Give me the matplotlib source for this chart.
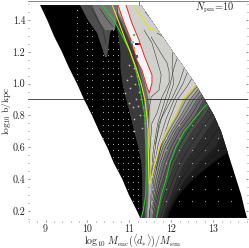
import matplotlib
matplotlib.use("Agg")
import matplotlib.pyplot as plt
import numpy as np
from matplotlib.patches import Polygon

plt.rcParams['mathtext.fontset'] = 'cm'
plt.rcParams['font.family'] = ['cmr10', 'DejaVu Serif']
plt.rcParams['axes.formatter.use_mathtext'] = True

# rows of log10 b at which every boundary below is read
b_rows = [1.494, 1.4, 1.3, 1.2, 1.1, 1.0, .9, .8, .7, .6, .5, .4, .3, .2, .155]
edge_left = [8.87, 9.04, 9.20, 9.39, 9.56, 9.75, 9.92, 10.11, 10.28, 10.47, 10.63, 10.83, 10.99, 11.18, 11.26]
edge_right = [11.28, 11.52, 11.78, 12.04, 12.31, 12.57, 12.80, 13.02, 13.19, 13.31, 13.43, 13.55, 13.67, 13.76, 13.81]

left_outer = [10.54, 10.66, 10.73, 10.78, 10.78, 10.83, 10.92, 11.02, 11.11, 11.21, 11.28, 11.30, 11.30, 11.30, 11.28]
left_mid = [10.59, 10.78, 10.95, 11.11, 11.21, 11.30, 11.35, 11.35, 11.35, 11.37, 11.40, 11.40, 11.40, 11.37, 11.37]
left_light = [10.63, 10.83, 10.99, 11.16, 11.26, 11.37, 11.45, 11.47, 11.45, 11.45, 11.45, 11.45, 11.45, 11.42, 11.42]
left_top = [10.68, 10.87, 11.04, 11.18, 11.30, 11.42, 11.49, 11.49, 11.49, 11.49, 11.49, 11.52, 11.54, 11.54, 11.54]

far = 14.1
right_light = [far, far, far, far, far, 12.60, 12.26, 12.09, 11.88, 11.71, 11.61, 11.52, 11.49, 11.49, 11.49]
right_b1 = [far, far, far, far, far, 12.75, 12.45, 12.23, 12.00, 11.80, 11.68, 11.59, 11.54, 11.49, 11.47]
right_b2 = [far, far, far, far, far, 12.95, 12.62, 12.38, 12.11, 11.92, 11.78, 11.68, 11.61, 11.54, 11.52]
right_b3 = [far, far, far, far, far, 13.10, 12.78, 12.57, 12.28, 12.07, 11.92, 11.80, 11.68, 11.61, 11.57]
right_b4 = [far, far, far, far, far, far, 13.00, 12.81, 12.52, 12.28, 12.09, 11.95, 11.83, 11.73, 11.68]
right_b5 = [far, far, far, far, far, far, far, 13.10, 12.85, 12.59, 12.33, 12.14, 12.00, 11.85, 11.80]
right_b6 = [far, far, far, far, far, far, far, far, 13.30, 13.05, 12.66, 12.35, 12.09, 11.92, 11.85]
right_b7 = [far, far, far, far, far, far, far, far, far, 13.50, 12.97, 12.50, 12.16, 11.95, 11.90]

green_left_b = b_rows
green_left_M = [10.35, 10.63, 10.83, 11.02, 11.14, 11.23, 11.30, 11.37, 11.39, 11.40, 11.40, 11.40, 11.39, 11.33, 11.28]
green_right_b = [.88, .8, .7, .6, .5, .4, .3, .2, .155]
green_right_M = [12.88, 12.62, 12.31, 12.11, 11.97, 11.88, 11.76, 11.68, 11.65]
yellow_left_b = [1.494, 1.4, 1.3, 1.2, 1.1, 1.0, .9, .8, .7, .6, .5, .4, .37]
yellow_left_M = [10.59, 10.73, 10.87, 11.02, 11.16, 11.28, 11.37, 11.42, 11.45, 11.45, 11.46, 11.47, 11.48]
yellow_right_b = [.995, .9, .8, .7, .6, .5, .4, .37]
yellow_right_M = [12.59, 12.26, 12.09, 11.88, 11.71, 11.61, 11.52, 11.48]
yellow_top_b = [1.494, 1.419, 1.35, 1.337]
yellow_top_M = [11.09, 11.31, 11.45, 11.67]
red_b = [1.494, 1.387, 1.274, 1.148, 1.085, .979, .941, 1.004, 1.054, 1.18, 1.274, 1.381, 1.494]
red_M = [10.73, 10.87, 11.04, 11.18, 11.30, 11.42, 11.48, 11.54, 11.54, 11.35, 11.23, 11.06, 10.92]

contours = [
    ([1.337, 1.255, 1.148, 1.054, .96, .916, .752], [11.35, 11.54, 11.66, 11.76, 11.71, 11.52, 11.42]),
    ([1.293, 1.18, 1.13, 1.073, 1.004, .916, .815, .752, .582, .394], [11.52, 11.78, 11.90, 11.95, 11.95, 11.78, 11.66, 11.54, 11.49, 11.47]),
    ([1.318, 1.255, 1.211, 1.104, .991, .897, .752, .582, .394], [11.66, 12.07, 12.21, 12.07, 11.97, 11.85, 11.68, 11.57, 11.52]),
    ([1.13, 1.004, .897, .79, .752, .582, .425], [12.35, 12.19, 12.00, 11.78, 11.71, 11.61, 11.54]),
    ([1.035, .972, .897, .771, .614, .457], [12.50, 12.35, 12.14, 11.95, 11.76, 11.64]),
    ([1.08, 1.0, .9, .78, .62, .46], [12.40, 12.28, 12.07, 11.88, 11.69, 11.58]),
    ([1.2, 1.1, 1.0, .9, .78, .62], [12.04, 12.02, 12.06, 11.93, 11.76, 11.62]),
    ([1.45, 1.38, 1.31, 1.27], [11.38, 11.60, 11.85, 12.05]),
]
tongue_b = [1.494, 1.4, 1.318, 1.167, 1.167, 1.318, 1.4, 1.494]
tongue_M = [9.82, 10.01, 10.23, 10.42, 10.47, 10.54, 10.73, 10.73]
tongue_hi_b = [1.494, 1.387, 1.337, 1.337, 1.494]
tongue_hi_M = [10.11, 10.30, 10.42, 10.66, 10.73]
tongue_lines = [
    ([1.47, 1.40, 1.33, 1.25], [10.10, 10.25, 10.38, 10.44]),
    ([1.47, 1.41, 1.36], [10.30, 10.45, 10.60]),
]

dot_b = [1.46, 1.42, 1.38, 1.34, 1.30, 1.26, 1.22, 1.18, 1.14, 1.10, 1.06, 1.02, .98, .94, .90, .86,
         .82, .78, .74, .70, .66, .62, .58, .54, .50, .46, .42, .38, .34, .30, .26, .22]
dot_M_left = [9.76, 10.0, 10.12, 10.36, 10.48, 10.6, 10.72, 10.84, 10.96, 11.08, 11.2, 11.32]
dot_far_b = [.74, .66, .58, .50, .42, .34, .26]
dot_M_far = [11.55, 11.87, 12.18, 12.49, 12.8, 13.11, 13.42, 13.73]
star_M = [11.0, 11.05, 11.1, 11.14, 11.18, 11.24, 11.22, 11.27, 11.32, 11.36, 11.38, 11.02, 11.08, 11.1,
          10.95, 10.9, 11.15, 11.2, 11.26, 11.3, 11.0, 11.12]
star_b = [1.12, 1.05, 1.1, 1.0, 1.05, 1.0, .95, .9, .85, .8, .75, .97, .85, .78,
          1.02, .94, .9, .86, .8, .72, .88, .7]

marker_M = [11.11, 11.18, 11.23, 11.11, 11.08, 11.18]
marker_b = [1.306, 1.249, 1.249, 1.224, 1.262, 1.17]
marker_c = ['#30e030', '#1010d0', '#e01010', '#f09020', '#30e0e0', '#9030a0']

bands = [
    (left_outer, right_b7, '#1c1c1c'),
    (left_outer, right_b6, '#2a2a2a'),
    (left_outer, right_b5, '#3a3a3a'),
    (left_mid, right_b4, '#4c4c4c'),
    (left_mid, right_b3, '#6c6c6c'),
    (left_light, right_b2, '#8e8e8e'),
    (left_light, right_b1, '#aeaeae'),
    (left_top, right_light, '#d0d0cc'),
]

fig = plt.figure(figsize=(2.49, 2.48), dpi=100)
ax = fig.add_axes([27.5 / 249, 1 - 221.5 / 248, 220 / 249, 221 / 248])
ax.set_xlim(8.57, 13.82)
ax.set_ylim(0.1327, 1.5226)

wedge_xy = np.r_[np.c_[edge_left, b_rows], np.c_[edge_right, b_rows][::-1]]
wedge = Polygon(wedge_xy, closed=True, fc='black', ec='none', zorder=1)
ax.add_patch(wedge)

def clip(art):
    for a in (art if isinstance(art, (list, tuple)) else [art]):
        a.set_clip_path(wedge)

for i, (l, r, c) in enumerate(bands):
    clip(ax.fill_betweenx(b_rows, l, r, color=c, lw=0, zorder=2 + i * .01))
    if i < len(bands) - 1:
        clip(ax.plot(r, b_rows, color='#101010', lw=.3, zorder=3))
        nxt_r = bands[i + 1][1]
        # thin hatching of iso-lines between neighbouring readings
        clip(ax.plot(np.mean([r, nxt_r], axis=0), b_rows, color='#101010', lw=.25, zorder=3))

t1 = ax.fill(tongue_M, tongue_b, color='#4e4e4e', lw=0, zorder=2.5); clip(t1)
t2 = ax.fill(tongue_hi_M, tongue_hi_b, color='#747474', lw=0, zorder=2.6); clip(t2)
for tb, tm in tongue_lines:
    clip(ax.plot(tm, tb, color='#222222', lw=.35, zorder=3))

clip(ax.fill(red_M, red_b, color='#f4f4f4', lw=0, zorder=3.2))

for cb, cm in contours:
    clip(ax.plot(cm, cb, color='#2a2a2a', lw=.35, zorder=3.3))

gx, gy = np.meshgrid(dot_M_left, dot_b)
clip(ax.scatter(gx.ravel(), gy.ravel(), s=.45, c='white', alpha=.6, lw=0, zorder=2.005))
gx, gy = np.meshgrid(dot_M_far, dot_far_b)
clip(ax.scatter(gx.ravel(), gy.ravel(), s=.8, c='white', alpha=.6, lw=0, zorder=3.4))
clip(ax.scatter(star_M, star_b, s=1.5, c='white', alpha=.7, lw=0, zorder=3.4))

for by, bx, col, w in [(green_left_b, green_left_M, '#20d020', .8), (green_right_b, green_right_M, '#20d020', .8),
                       (yellow_left_b, yellow_left_M, '#e8e020', .8), (yellow_right_b, yellow_right_M, '#e8e020', .8),
                       (yellow_top_b, yellow_top_M, '#e8e020', .8), (red_b, red_M, '#e02020', .65)]:
    clip(ax.plot(bx, by, color=col, lw=w, zorder=4))

ax.scatter(marker_M, marker_b, s=4, c=marker_c, marker='s', lw=0, zorder=5)

line_left_M = [8.57, 9.90]
line_right_M = [11.42, 13.82]
line_b = [0.90, 0.90]
ax.plot(line_left_M, line_b, color='#505050', lw=.7, zorder=4.5)
ax.plot(line_right_M, line_b, color='#404040', lw=.7, zorder=4.5)
ax.plot([11.23, 11.23], [1.494, 1.5226], color='#808080', lw=.7, zorder=4.5)

for s in ['left', 'right', 'bottom']:
    ax.spines[s].set_visible(False)
ax.spines['top'].set_color('#707070')
ax.spines['top'].set_linewidth(.6)

x_ticks = [9, 10, 11, 12, 13]
y_ticks = [.2, .4, .6, .8, 1.0, 1.2, 1.4]
x_minor = [8.6, 8.8, 9.2, 9.4, 9.6, 9.8, 10.2, 10.4, 10.6, 10.8, 11.2, 11.4, 11.6, 11.8, 12.2, 12.4, 12.6, 12.8, 13.2, 13.4, 13.6, 13.8]
y_minor = [.15, .25, .3, .35, .45, .5, .55, .65, .7, .75, .85, .9, .95, 1.05, 1.1, 1.15, 1.25, 1.3, 1.35, 1.45, 1.5]
ax.set_xticks(x_ticks)
ax.set_xticks(x_minor, minor=True)
ax.set_yticks(y_ticks)
ax.set_yticks(y_minor, minor=True)
ax.set_xticklabels([str(v) for v in x_ticks])
ax.set_yticklabels(['0.2', '0.4', '0.6', '0.8', '1.0', '1.2', '1.4'])
ax.tick_params(which='major', direction='in', length=1.6, width=.5, color='#606060',
               left=True, right=True, bottom=True, top=False, labelsize=7.2, labelcolor='#222222')
ax.tick_params(axis='x', which='major', pad=2.2)
ax.tick_params(axis='y', which='major', pad=1.6)
ax.tick_params(which='minor', direction='in', length=.8, width=.5, color='#606060',
               left=True, right=True, bottom=True, top=False)
ax.set_xlabel(r'$\log_{10}\,M_{\rm enc}(\langle d_{*}\rangle)/M_{\rm sun}$', fontsize=7.2, color='#222222', va='center')
ax.xaxis.set_label_coords(0.48, -0.088)
ax.set_ylabel(r'$\log_{10}\,{\rm b/kpc}$', fontsize=6.8, color='#222222', va='center')
ax.yaxis.set_label_coords(-0.096, 0.5)
ax.text(0.938, 0.966, r'$N_{\rm pm}\!=\!10$', transform=ax.transAxes, ha='right', va='center', fontsize=7.4, color='#222222')

fig.savefig('out.png', dpi=100)
